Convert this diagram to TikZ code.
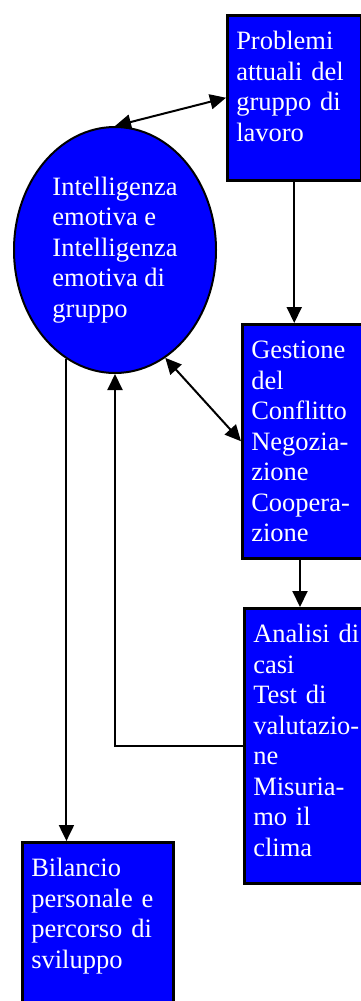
\documentclass[tikz,border=0pt]{standalone}
\usepackage{fontspec}
\setmainfont{Liberation Serif}
\usepackage{tikz}
\usetikzlibrary{shapes.geometric, arrows.meta, positioning, calc}

\begin{document}
\begin{tikzpicture}[
    x=1pt, y=-1pt,
    >={Triangle[length=16pt,width=15pt]},
    font=\fontsize{26.5}{30.5}\selectfont,
    % Box and Oval Styles
    blubox/.style={rectangle, draw=black, line width=2.5pt, fill=blue, text=white, align=left, anchor=north west, inner xsep=9pt, inner ysep=0pt, text height=34.5pt},
    oval/.style={ellipse, draw=black, line width=2pt, fill=blue, text=white, align=left, inner sep=0pt, minimum width=202pt, minimum height=246pt},
    arr/.style={->, line width=2pt, draw=black},
    biarr/.style={<->, line width=2pt, draw=black}
]
\useasboundingbox (0,0) rectangle (361,1001);

% ========================================================
% NODES
% ========================================================

\node[oval] (intel) at (115,250) {Intelligenza\\emotiva e\\Intelligenza\\emotiva di\\gruppo};

\node[blubox, text width=116pt, text depth=130.5pt] (problemi) at (226,14) {Problemi\\attuali del\\gruppo di\\lavoro};

\node[blubox, text width=150pt, text depth=199.5pt] (gestione) at (241,323) {Gestione\\del\\Conflitto\\Negozia-\\zione\\Coopera-\\zione};

\node[blubox, text width=150pt, text depth=240.5pt] (analisi) at (243,607) {Analisi di\\casi\\Test di\\valutazio-\\ne\\Misuria-\\mo il\\clima};

\node[blubox, text width=133pt, text depth=200pt] (bilancio) at (21,841) {Bilancio\\personale e\\percorso di\\sviluppo};

% ========================================================
% CONNECTORS
% ========================================================

\draw[biarr] (intel.north) -- (problemi.west);
\draw[arr] (problemi.south) -- (problemi.south |- gestione.north);
\draw[biarr] (intel.-65) -- (gestione.west);
\draw[arr] ([xshift=59pt]gestione.south west) -- ([xshift=57pt]analisi.north west);

% Feedback and output
\draw[arr] (analisi.west) -| (intel.south);
\draw[arr] (intel.-114.5) -- (intel.-114.5 |- bilancio.north);

\end{tikzpicture}
\end{document}
